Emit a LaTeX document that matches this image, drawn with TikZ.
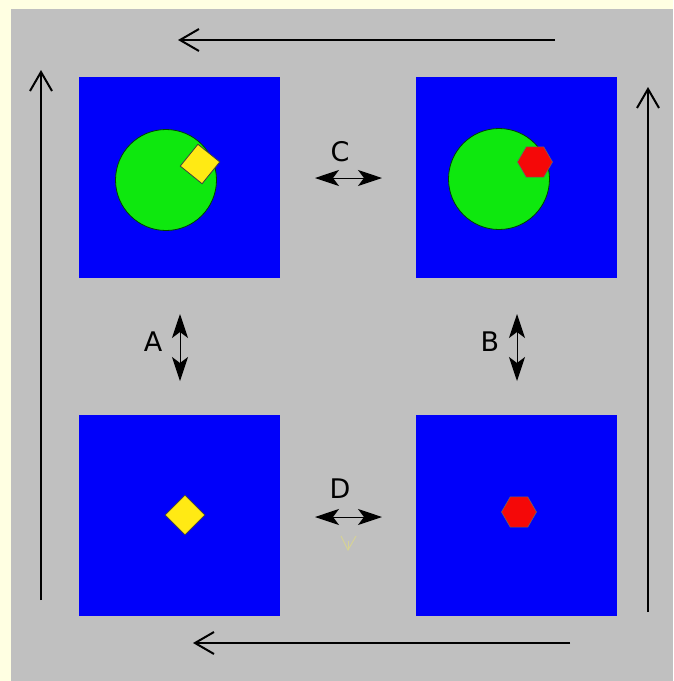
\documentclass[tikz,border=0pt]{standalone}
\usepackage{fontspec}
\setmainfont{DejaVu Sans}
\usetikzlibrary{shapes.geometric,arrows.meta,positioning}

\definecolor{frameyellow}{RGB}{255,255,226}
\definecolor{panelgray}{RGB}{192,192,192}
\definecolor{tileblue}{RGB}{0,0,250}
\definecolor{discgreen}{RGB}{14,232,14}
\definecolor{gemyellow}{RGB}{255,234,20}
\definecolor{hexred}{RGB}{245,8,8}
\definecolor{faintv}{RGB}{214,210,150}

\begin{document}
\begin{tikzpicture}[x=1pt, y=-1pt, >=Stealth]
        \tikzset{
            tile/.style={rectangle, fill=tileblue, minimum size=201pt, inner sep=0pt},
            disc/.style={circle, draw=green!25!black, fill=discgreen, minimum size=101pt, inner sep=0pt, line width=0.8pt},
            gem/.style={diamond, draw=black!75, fill=gemyellow, minimum size=40pt, inner sep=0pt, line width=0.8pt},
            hexa/.style={regular polygon, regular polygon sides=6, draw=black!60, fill=hexred, minimum size=35pt, inner sep=0pt, line width=0.6pt},
            roundarrow/.style={draw, line width=2pt, -{Straight Barb[length=19pt, width=22pt, line width=2pt]}},
            swaparrow/.style={draw, line width=1pt, {Stealth[length=24pt, width=16pt, inset=6pt]}-{Stealth[length=24pt, width=16pt, inset=6pt]}},
            tag/.style={font=\fontsize{27}{27}\selectfont, inner sep=0pt}
        }
        \useasboundingbox (0,0) rectangle (673,681);
        \fill[frameyellow] (0,0) rectangle (673,681);
        \fill[panelgray] (11,9) rectangle (673,681);

        % Tiles
        \node[tile] (tl) at (179.5,177.5) {};
        \node[tile] (tr) at (516.5,177.5) {};
        \node[tile] (bl) at (179.5,515.5) {};
        \node[tile] (br) at (516.5,515.5) {};

        % Contents of the tiles
        \node[disc] (discl) at (166,180) {};
        \node[gem, rotate=6] (geml) at (200,164) {};
        \node[disc] (discr) at (499,179) {};
        \node[hexa] (hexr) at (535,162) {};
        \node[gem] (gemd) at (185,515) {};
        \node[hexa] (hexd) at (519,512) {};

        % Cycle round the four tiles
        \coordinate (topa) at (555,40);
        \coordinate (topb) at (178,40);
        \coordinate (lefta) at (41,600);
        \coordinate (leftb) at (41,70);
        \coordinate (righta) at (648,612);
        \coordinate (rightb) at (648,87);
        \coordinate (bota) at (570,643);
        \coordinate (botb) at (193,643);
        \path[roundarrow] (topa) -- (topb);
        \path[roundarrow] (lefta) -- (leftb);
        \path[roundarrow] (righta) -- (rightb);
        \path[roundarrow] (bota) -- (botb);

        % Swaps between neighbouring tiles
        \coordinate (ca) at (315,178);
        \coordinate (cb) at (382,178);
        \coordinate (da) at (315,517);
        \coordinate (db) at (382,517);
        \coordinate (aa) at (180,314);
        \coordinate (ab) at (180,381);
        \coordinate (ba) at (517,314);
        \coordinate (bb) at (517,381);
        \path[swaparrow] (ca) -- (cb);
        \path[swaparrow] (da) -- (db);
        \path[swaparrow] (aa) -- (ab);
        \path[swaparrow] (ba) -- (bb);

        \node[tag] (labc) at (340,152) {C};
        \node[tag] (labd) at (340,489) {D};
        \node[tag] (laba) at (153,342) {A};
        \node[tag] (labb) at (490,342) {B};

        % faint mark below D
        \draw[faintv, line width=1pt] (341,536) -- (348,550) -- (356,536);
        \draw[faintv, line width=1pt] (348,541) -- (348,550);
\end{tikzpicture}
\end{document}
